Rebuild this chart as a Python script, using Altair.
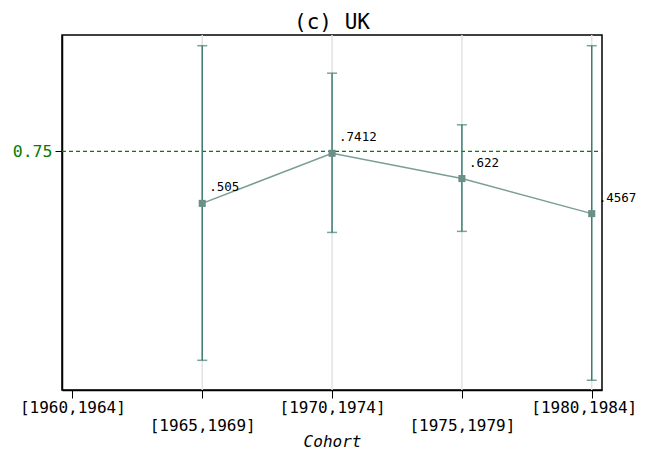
import altair as alt
import pandas as pd

cohorts = ["[1960,1964]", "[1965,1969]", "[1970,1974]", "[1975,1979]", "[1980,1984]"]
pos = [1, 2, 3, 4]
estimates = [0.505, 0.7412, 0.622, 0.4567]
labels = [".505", ".7412", ".622", ".4567"]
lower = [-0.235, 0.368, 0.373, -0.329]
upper = [1.2485, 1.119, 0.8755, 1.2485]
ref_value = 0.75

df = pd.DataFrame({"x": pos, "est": estimates, "lab": labels, "lo": lower, "hi": upper})

FONT = "DejaVu Sans Mono"
xdom = [-0.08, 4.079]
ydom = [-0.375, 1.299]

lab_js = "[" + ",".join("'" + c + "'" for c in cohorts) + "]"
label_expr = f"datum.value % 2 == 1 ? ['', {lab_js}[datum.value]] : {lab_js}[datum.value]"

xscale = alt.Scale(domain=xdom, nice=False, zero=False)
yscale = alt.Scale(domain=ydom, nice=False, zero=False)

xenc = alt.X("x:Q", scale=xscale,
             axis=alt.Axis(values=[0, 1, 2, 3, 4], labelExpr=label_expr, grid=False,
                           title="Cohort", titleFontStyle="italic", titleFont=FONT,
                           titleFontSize=16, titleFontWeight="normal", titleColor="black",
                           titlePadding=0,
                           labelFont=FONT, labelFontSize=16, labelColor="black",
                           labelLineHeight=18, labelPadding=1, tickSize=8,
                           labelOffset={"condition": {"test": "datum.value == 4", "value": -8},
                                        "value": 0},
                           tickColor="black", domainColor="black", domainWidth=1.5,
                           tickWidth=1, labelFlush=False, labelOverlap=False))
yenc = alt.Y("est:Q", scale=yscale,
             axis=alt.Axis(values=[ref_value], format=".2f", grid=False, title=None,
                           labelFont=FONT, labelFontSize=16.5, labelColor="#008000",
                           tickSize=7, tickColor="black", domainColor="black",
                           domainWidth=1.5, labelPadding=3))

base = alt.Chart(df)

grid = base.mark_rule(color="#e3e3e3", strokeWidth=1.5).encode(
    x=alt.X("x:Q", scale=xscale), y=alt.value(0), y2=alt.value(355))

refline = alt.Chart(pd.DataFrame({"r": [ref_value]})).mark_rule(
    color="#008000", strokeDash=[4, 3], strokeWidth=1.2).encode(
    y=alt.Y("r:Q", scale=yscale), x=alt.value(0), x2=alt.value(540))

bars = base.mark_rule(color="#3d7d72", strokeWidth=1.5).encode(
    x=alt.X("x:Q", scale=xscale), y=alt.Y("lo:Q", scale=yscale), y2="hi:Q")

cap_hi = base.mark_tick(color="#3d7d72", thickness=1.5, size=10, orient="horizontal").encode(
    x=alt.X("x:Q", scale=xscale), y=alt.Y("hi:Q", scale=yscale))
cap_lo = base.mark_tick(color="#3d7d72", thickness=1.5, size=10, orient="horizontal").encode(
    x=alt.X("x:Q", scale=xscale), y=alt.Y("lo:Q", scale=yscale))

line = base.mark_line(color="#7a9e96", strokeWidth=1.5).encode(x=xenc, y=yenc)
pts = base.mark_square(color="#6a9088", size=50, opacity=1, filled=True).encode(
    x=alt.X("x:Q", scale=xscale), y=alt.Y("est:Q", scale=yscale))
txt = base.mark_text(align="left", baseline="middle", dx=7, dy=-16, font=FONT,
                     fontSize=12.5, color="black").encode(
    x=alt.X("x:Q", scale=xscale), y=alt.Y("est:Q", scale=yscale), text="lab:N")

chart = alt.layer(line, grid, refline, bars, cap_hi, cap_lo, pts, txt).properties(
    width=540, height=355,
    background="white",
    title=alt.TitleParams("(c) UK", font=FONT, fontSize=21, fontWeight="normal",
                          color="black", anchor="middle", offset=1),
    autosize=alt.AutoSizeParams(type="none"),
    padding={"left": 54, "top": 27, "right": 36, "bottom": 59},
).configure_view(stroke="black", strokeWidth=1.5)

chart.save("out.html", embed_options={"renderer": "svg", "actions": False})
